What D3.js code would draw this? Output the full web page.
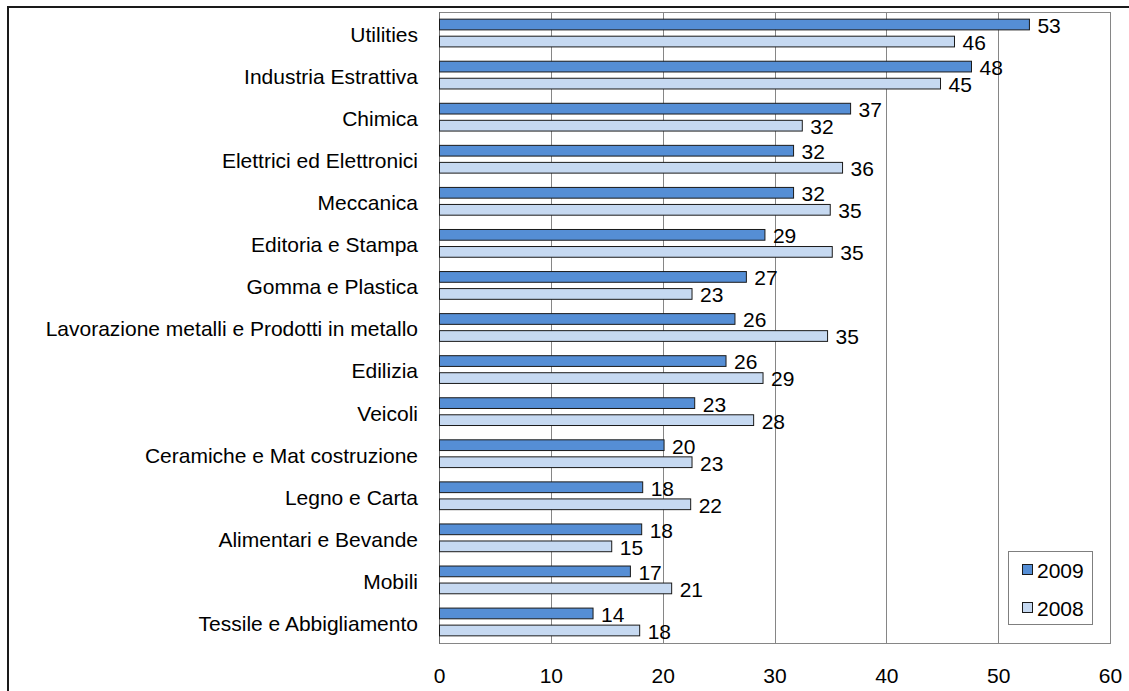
<!DOCTYPE html>
<html>
<head>
<meta charset="utf-8">
<script src="https://cdn.jsdelivr.net/npm/d3@7"></script>
<style>
  html, body { margin: 0; padding: 0; background: #fff; }
  svg { display: block; font-family: "Liberation Sans", Arial, sans-serif; }
</style>
</head>
<body>
<svg id="chart" width="1129" height="691"></svg>
<script>
// Sectors, top to bottom
const categories = [
  "Utilities",
  "Industria Estrattiva",
  "Chimica",
  "Elettrici ed Elettronici",
  "Meccanica",
  "Editoria e Stampa",
  "Gomma e Plastica",
  "Lavorazione metalli e Prodotti in metallo",
  "Edilizia",
  "Veicoli",
  "Ceramiche e Mat costruzione",
  "Legno e Carta",
  "Alimentari e Bevande",
  "Mobili",
  "Tessile e Abbigliamento"
];

// Values per year (labels show them rounded to integers)
const values2009 = [52.75, 47.57, 36.76, 31.66, 31.66, 29.1, 27.44, 26.42, 25.62, 22.82, 20.08, 18.17, 18.08, 17.07, 13.73];
const values2008 = [46.05, 44.8, 32.44, 36.04, 34.94, 35.12, 22.58, 34.7, 28.93, 28.09, 22.58, 22.46, 15.4, 20.76, 17.9];

const seriesNames = ["2009", "2008"];
const seriesColors = ["#558ed5", "#c6d9f1"];
const xTicks = [0, 10, 20, 30, 40, 50, 60];

const FONT = "Liberation Sans, Arial, sans-serif";
const FS = "21px";

const svg = d3.select("#chart");

// Frame around the whole chart (open on the right and at the bottom)
svg.append("rect")
  .attr("x", 8).attr("y", 7)
  .attr("width", 1140).attr("height", 700)
  .attr("fill", "none").attr("stroke", "#1a1a1a").attr("stroke-width", 2);

const plot = { left: 439, top: 12, right: 1110, bottom: 643 };

const x = d3.scaleLinear().domain([0, 60]).range([plot.left, plot.right]);
const y = d3.scaleBand().domain(categories).range([plot.top, plot.bottom]).padding(0);
const ySub = d3.scaleBand().domain(seriesNames).range([0, y.bandwidth()])
  .paddingInner(0.37).paddingOuter(0.42);

// Vertical gridlines
svg.append("g")
  .selectAll("line")
  .data(xTicks.filter(t => t > 0))
  .join("line")
  .attr("x1", d => Math.round(x(d)) + 0.5).attr("x2", d => Math.round(x(d)) + 0.5)
  .attr("y1", plot.top).attr("y2", plot.bottom)
  .attr("stroke", "#868686").attr("stroke-width", 1);

// Plot area border
svg.append("rect")
  .attr("x", plot.left + 0.5).attr("y", plot.top + 0.5)
  .attr("width", plot.right - plot.left).attr("height", plot.bottom - plot.top)
  .attr("fill", "none").attr("stroke", "#868686").attr("stroke-width", 1);

// X axis labels
const xAxis = d3.axisBottom(x).tickValues(xTicks).tickSize(0).tickPadding(0).tickFormat(d3.format("d"));
const gx = svg.append("g").attr("transform", `translate(0,${plot.bottom})`).call(xAxis);
gx.select(".domain").remove();
gx.selectAll("text")
  .attr("y", 40).attr("dy", null)
  .attr("font-size", FS).attr("font-family", FONT)
  .attr("fill", "#000");

// Category labels
const yAxis = d3.axisLeft(y).tickSize(0).tickPadding(21);
const gy = svg.append("g").attr("transform", `translate(${plot.left},0)`).call(yAxis);
gy.select(".domain").remove();
gy.selectAll("text")
  .attr("dy", null).attr("y", 8.9)
  .attr("font-size", FS).attr("font-family", FONT)
  .attr("fill", "#000");

// Left axis line
svg.append("line")
  .attr("x1", plot.left + 0.5).attr("x2", plot.left + 0.5)
  .attr("y1", plot.top).attr("y2", plot.bottom + 1)
  .attr("stroke", "#6e6e6e").attr("stroke-width", 1);

// Bars and value labels
const rows = categories.map((c, i) => ({
  category: c,
  items: [
    { series: "2009", value: values2009[i], color: seriesColors[0] },
    { series: "2008", value: values2008[i], color: seriesColors[1] }
  ]
}));

const groups = svg.append("g").selectAll("g")
  .data(rows)
  .join("g")
  .attr("transform", d => `translate(0,${y(d.category)})`);

groups.selectAll("rect")
  .data(d => d.items)
  .join("rect")
  .attr("x", x(0) + 0.5)
  .attr("y", d => ySub(d.series))
  .attr("width", d => x(d.value) - x(0))
  .attr("height", ySub.bandwidth())
  .attr("fill", d => d.color)
  .attr("stroke", "#1a1a1a").attr("stroke-width", 1);

groups.selectAll("text")
  .data(d => d.items)
  .join("text")
  .attr("x", d => x(d.value) + 8.5)
  .attr("y", d => ySub(d.series) + ySub.bandwidth() / 2 + 8.4)
  .attr("font-size", FS)
  .attr("font-family", FONT)
  .attr("fill", "#000")
  .text(d => d3.format(".0f")(d.value));

// Legend
const legend = svg.append("g").attr("transform", "translate(1008,551)");
legend.append("rect")
  .attr("x", 0.5).attr("y", 0.5).attr("width", 84).attr("height", 73)
  .attr("fill", "#fff").attr("stroke", "#7f7f7f").attr("stroke-width", 1);
const li = legend.selectAll("g.item")
  .data(seriesNames)
  .join("g").attr("class", "item")
  .attr("transform", (d, i) => `translate(0,${13 + i * 38})`);
li.append("rect")
  .attr("x", 14.5).attr("y", 0.5).attr("width", 10).attr("height", 10)
  .attr("fill", (d, i) => seriesColors[i])
  .attr("stroke", "#1a1a1a").attr("stroke-width", 1);
li.append("text")
  .attr("x", 29).attr("y", 13.5)
  .attr("font-size", FS).attr("font-family", FONT).attr("fill", "#000")
  .text(d => d);
</script>
</body>
</html>
